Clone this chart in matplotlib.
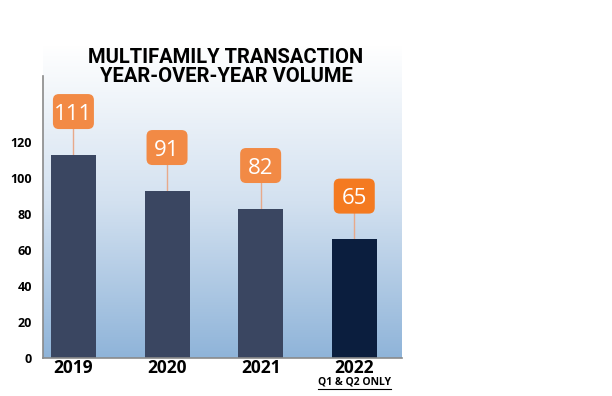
import matplotlib
matplotlib.use("Agg")
import matplotlib.pyplot as plt
import numpy as np
from matplotlib.colors import LinearSegmentedColormap
from matplotlib.patches import FancyBboxPatch
from matplotlib.transforms import ScaledTranslation

years = ["2019", "2020", "2021", "2022"]
bar_heights = [113, 93, 83, 66]
label_values = [111, 91, 82, 65]
yticks = [0, 20, 40, 60, 80, 100, 120]
title = "MULTIFAMILY TRANSACTION\nYEAR-OVER-YEAR VOLUME"
note = "Q1 & Q2 ONLY"

bar_colors = ["#3a4661", "#3a4661", "#3a4661", "#0b1e3e"]
box_colors = ["#f28a45", "#f28a45", "#f28a45", "#f47a20"]

fig = plt.figure(figsize=(6.12, 3.96), dpi=100)
ax = fig.add_axes([43/612, 38/396, 359/612, 313/396])
ymax = 174
xl, xr = -0.325, 3.51
ax.set_xlim(xl, xr)
ax.set_ylim(0, ymax)

# gradient background (white at top, light blue at bottom)
cmap = LinearSegmentedColormap.from_list("bg", ["#ffffff", "#d3e1f0", "#8fb4d9"])
grad = np.linspace(0, 1, 256).reshape(-1, 1)
ax.imshow(grad, cmap=cmap, aspect="auto", extent=[xl, xr, 0, ymax],
          origin="upper", zorder=0, vmin=0, vmax=1)

x = np.arange(len(years))
ax.bar(x, bar_heights, width=0.48, color=bar_colors, zorder=2)

offset = 24
bw, bh, rr = 0.41, 0.35, 0.06  # box size in inches
for xi, h, lab, bc in zip(x, bar_heights, label_values, box_colors):
    cy = h + offset
    ax.plot([xi, xi], [h, cy], color="#e8a98a", lw=1.0, zorder=1.5)
    tr = fig.dpi_scale_trans + ScaledTranslation(xi, cy, ax.transData)
    box = FancyBboxPatch((-bw/2 + rr, -bh/2 + rr), bw - 2*rr, bh - 2*rr,
                         boxstyle=f"round,pad={rr}", fc=bc, ec="none",
                         transform=tr, zorder=2.5)
    ax.add_patch(box)
    ax.text(xi, cy, str(lab), ha="center", va="center_baseline", color="white",
            fontsize=16, family="Open Sans", zorder=3)

for s in ["top", "right"]:
    ax.spines[s].set_visible(False)
ax.spines["left"].set_bounds(0, 157)
ax.spines["left"].set_color("#8a8a8a")
ax.spines["bottom"].set_color("#8a8a8a")
ax.spines["left"].set_linewidth(1.2)
ax.spines["bottom"].set_linewidth(1.2)

ax.set_yticks(yticks)
ax.set_yticklabels([str(t) for t in yticks], fontsize=9, fontweight="bold",
                   family="Open Sans")
ax.tick_params(axis="y", length=0, pad=8)
ax.set_xticks(x)
ax.set_xticklabels(years, fontsize=12.5, fontweight="bold", family="Open Sans")
ax.tick_params(axis="x", length=0, pad=1)

ax.text(3, -13.5, note, ha="center", va="center", fontsize=7.5,
        fontweight="bold", family="Open Sans", transform=ax.transData,
        clip_on=False)
ax.plot([2.61, 3.39], [-17.5, -17.5], color="black", lw=0.8, clip_on=False)

fig.text(226/612, 1 - 67/396, title, ha="center", va="center",
         fontsize=14.5, fontweight="bold",
         family=["Roboto", "DejaVu Sans"], linespacing=1.0)

fig.savefig("out.png", dpi=100)
